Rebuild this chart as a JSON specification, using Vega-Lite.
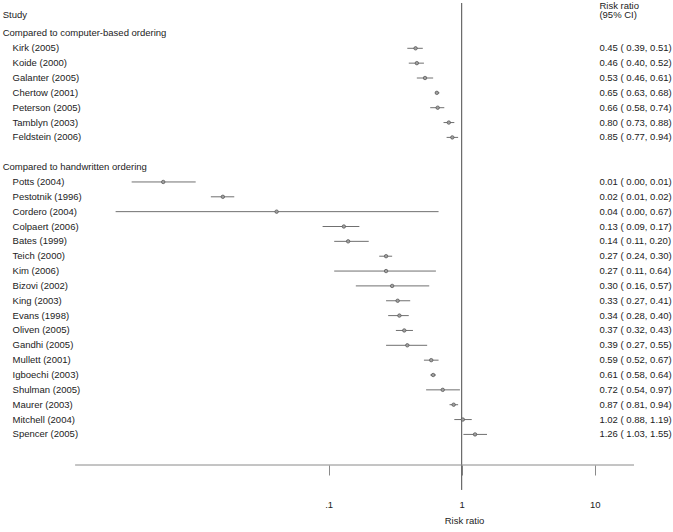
{
  "$schema": "https://vega.github.io/schema/vega-lite/v6.json",
  "width": 673,
  "height": 465,
  "autosize": {"type": "none"},
  "padding": {"left": 0, "top": 0, "right": 0, "bottom": 67},
  "config": {"view": {"stroke": null}, "font": "Liberation Sans"},
  "datasets": {
    "studies": [
      {"study": "Kirk (2005)", "row": 0, "rr": 0.45, "lo": 0.39, "hi": 0.51, "ci": "0.45 ( 0.39, 0.51)"},
      {"study": "Koide (2000)", "row": 1, "rr": 0.46, "lo": 0.40, "hi": 0.52, "ci": "0.46 ( 0.40, 0.52)"},
      {"study": "Galanter (2005)", "row": 2, "rr": 0.53, "lo": 0.46, "hi": 0.61, "ci": "0.53 ( 0.46, 0.61)"},
      {"study": "Chertow (2001)", "row": 3, "rr": 0.65, "lo": 0.63, "hi": 0.68, "ci": "0.65 ( 0.63, 0.68)"},
      {"study": "Peterson (2005)", "row": 4, "rr": 0.66, "lo": 0.58, "hi": 0.74, "ci": "0.66 ( 0.58, 0.74)"},
      {"study": "Tamblyn (2003)", "row": 5, "rr": 0.80, "lo": 0.73, "hi": 0.88, "ci": "0.80 ( 0.73, 0.88)"},
      {"study": "Feldstein (2006)", "row": 6, "rr": 0.85, "lo": 0.77, "hi": 0.94, "ci": "0.85 ( 0.77, 0.94)"},
      {"study": "Potts (2004)", "row": 9, "rr": 0.0057, "lo": 0.0033, "hi": 0.010, "ci": "0.01 ( 0.00, 0.01)"},
      {"study": "Pestotnik (1996)", "row": 10, "rr": 0.016, "lo": 0.013, "hi": 0.0195, "ci": "0.02 ( 0.01, 0.02)"},
      {"study": "Cordero (2004)", "row": 11, "rr": 0.0406, "lo": 0.0025, "hi": 0.67, "ci": "0.04 ( 0.00, 0.67)"},
      {"study": "Colpaert (2006)", "row": 12, "rr": 0.13, "lo": 0.09, "hi": 0.17, "ci": "0.13 ( 0.09, 0.17)"},
      {"study": "Bates (1999)", "row": 13, "rr": 0.14, "lo": 0.11, "hi": 0.20, "ci": "0.14 ( 0.11, 0.20)"},
      {"study": "Teich (2000)", "row": 14, "rr": 0.27, "lo": 0.24, "hi": 0.30, "ci": "0.27 ( 0.24, 0.30)"},
      {"study": "Kim (2006)", "row": 15, "rr": 0.27, "lo": 0.11, "hi": 0.64, "ci": "0.27 ( 0.11, 0.64)"},
      {"study": "Bizovi (2002)", "row": 16, "rr": 0.30, "lo": 0.16, "hi": 0.57, "ci": "0.30 ( 0.16, 0.57)"},
      {"study": "King (2003)", "row": 17, "rr": 0.33, "lo": 0.27, "hi": 0.41, "ci": "0.33 ( 0.27, 0.41)"},
      {"study": "Evans (1998)", "row": 18, "rr": 0.34, "lo": 0.28, "hi": 0.40, "ci": "0.34 ( 0.28, 0.40)"},
      {"study": "Oliven (2005)", "row": 19, "rr": 0.37, "lo": 0.32, "hi": 0.43, "ci": "0.37 ( 0.32, 0.43)"},
      {"study": "Gandhi (2005)", "row": 20, "rr": 0.39, "lo": 0.27, "hi": 0.55, "ci": "0.39 ( 0.27, 0.55)"},
      {"study": "Mullett (2001)", "row": 21, "rr": 0.59, "lo": 0.52, "hi": 0.67, "ci": "0.59 ( 0.52, 0.67)"},
      {"study": "Igboechi (2003)", "row": 22, "rr": 0.61, "lo": 0.58, "hi": 0.64, "ci": "0.61 ( 0.58, 0.64)"},
      {"study": "Shulman (2005)", "row": 23, "rr": 0.72, "lo": 0.54, "hi": 0.97, "ci": "0.72 ( 0.54, 0.97)"},
      {"study": "Maurer (2003)", "row": 24, "rr": 0.87, "lo": 0.81, "hi": 0.94, "ci": "0.87 ( 0.81, 0.94)"},
      {"study": "Mitchell (2004)", "row": 25, "rr": 1.02, "lo": 0.88, "hi": 1.19, "ci": "1.02 ( 0.88, 1.19)"},
      {"study": "Spencer (2005)", "row": 26, "rr": 1.26, "lo": 1.03, "hi": 1.55, "ci": "1.26 ( 1.03, 1.55)"}
    ],
    "groups": [
      {"group": "Compared to computer-based ordering", "row": -1},
      {"group": "Compared to handwritten ordering", "row": 8}
    ],
    "one": [{}]
  },
  "layer": [
    {
      "data": {"name": "studies"},
      "mark": {"type": "rule", "color": "#707070", "strokeWidth": 1},
      "encoding": {
        "x": {
          "field": "lo", "type": "quantitative",
          "scale": {"type": "log", "domain": [0.0003378, 38.79], "nice": false},
          "axis": {
            "values": [0.1, 1, 10],
            "labelExpr": "datum.value < 0.5 ? '.1' : (datum.value < 5 ? '1' : '10')",
            "domain": false, "grid": false,
            "ticks": true, "tickSize": 10, "tickColor": "#8a8a8a", "tickWidth": 1,
            "labelFont": "Liberation Sans", "labelFontSize": 9.5, "labelColor": "#222222",
            "labelPadding": 24,
            "title": "Risk ratio", "titleFont": "Liberation Sans", "titleFontSize": 9.5,
            "titleFontWeight": "normal", "titleColor": "#222222", "titlePadding": 7, "titleX": 464
          }
        },
        "x2": {"field": "hi"},
        "y": {
          "field": "row", "type": "quantitative",
          "scale": {"domain": [-3.2525, 28.06], "reverse": true, "nice": false, "zero": false},
          "axis": null
        }
      }
    },
    {
      "data": {"name": "one"},
      "mark": {"type": "rule", "color": "#4a4a4a", "strokeWidth": 1},
      "encoding": {
        "x": {"datum": 1, "type": "quantitative"},
        "y": {"datum": -3.05, "type": "quantitative"},
        "y2": {"datum": 29.74}
      }
    },
    {
      "data": {"name": "one"},
      "mark": {"type": "rule", "color": "#8a8a8a", "strokeWidth": 1},
      "encoding": {
        "x": {"datum": 0.00124, "type": "quantitative"},
        "x2": {"datum": 19.75},
        "y": {"datum": 28.06, "type": "quantitative"}
      }
    },
    {
      "data": {"name": "studies"},
      "mark": {"type": "point", "shape": "circle", "filled": true, "size": 12, "fill": "#a0a0a0", "stroke": "#505050", "strokeWidth": 0.7, "opacity": 1},
      "encoding": {
        "x": {"field": "rr", "type": "quantitative"},
        "y": {"field": "row", "type": "quantitative"}
      }
    },
    {
      "data": {"name": "studies"},
      "mark": {"type": "text", "align": "left", "baseline": "middle", "fontSize": 9.5, "color": "#222222", "font": "Liberation Sans"},
      "encoding": {
        "x": {"datum": 0.00042, "type": "quantitative"},
        "y": {"field": "row", "type": "quantitative"},
        "text": {"field": "study"}
      }
    },
    {
      "data": {"name": "studies"},
      "mark": {"type": "text", "align": "left", "baseline": "middle", "fontSize": 9.5, "color": "#222222", "font": "Liberation Sans"},
      "encoding": {
        "x": {"datum": 10.85, "type": "quantitative"},
        "y": {"field": "row", "type": "quantitative"},
        "text": {"field": "ci"}
      }
    },
    {
      "data": {"name": "groups"},
      "mark": {"type": "text", "align": "left", "baseline": "middle", "fontSize": 9.5, "color": "#222222", "font": "Liberation Sans"},
      "encoding": {
        "x": {"datum": 0.000354, "type": "quantitative"},
        "y": {"field": "row", "type": "quantitative"},
        "text": {"field": "group"}
      }
    },
    {
      "data": {"name": "one"},
      "mark": {"type": "text", "align": "left", "baseline": "middle", "fontSize": 9.5, "color": "#222222", "font": "Liberation Sans"},
      "encoding": {
        "x": {"datum": 0.000354, "type": "quantitative"},
        "y": {"datum": -2.24, "type": "quantitative"},
        "text": {"value": "Study"}
      }
    },
    {
      "data": {"name": "one"},
      "mark": {"type": "text", "align": "left", "baseline": "middle", "fontSize": 9.5, "color": "#222222", "font": "Liberation Sans"},
      "encoding": {
        "x": {"datum": 10.85, "type": "quantitative"},
        "y": {"datum": -2.85, "type": "quantitative"},
        "text": {"value": "Risk ratio"}
      }
    },
    {
      "data": {"name": "one"},
      "mark": {"type": "text", "align": "left", "baseline": "middle", "fontSize": 9.5, "color": "#222222", "font": "Liberation Sans"},
      "encoding": {
        "x": {"datum": 10.85, "type": "quantitative"},
        "y": {"datum": -2.21, "type": "quantitative"},
        "text": {"value": "(95% CI)"}
      }
    }
  ]
}
